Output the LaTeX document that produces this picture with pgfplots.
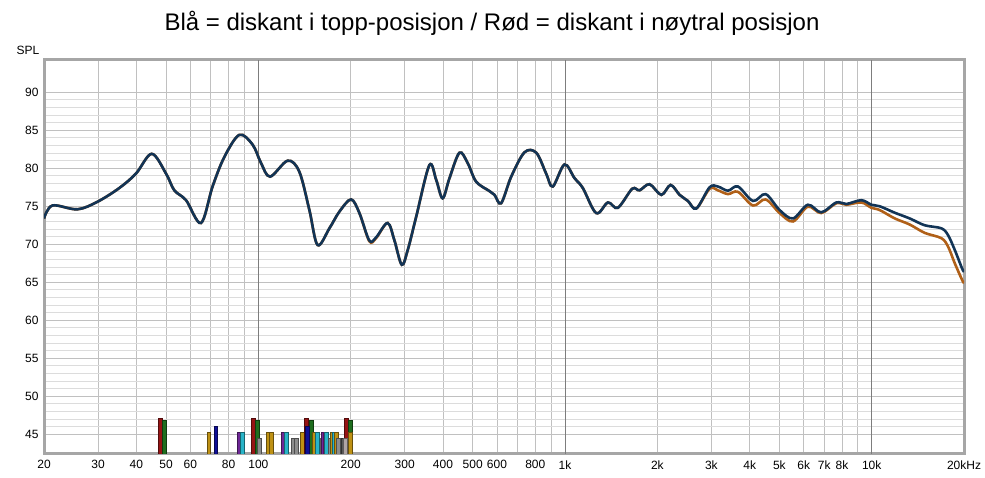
\documentclass[border=0pt]{standalone}
\usepackage{pgfplots}
\pgfplotsset{compat=1.18}
\usepackage{fontspec}
\setmainfont{Liberation Sans}
\definecolor{cblue}{RGB}{18,52,86}
\definecolor{corange}{RGB}{176,96,24}
\definecolor{gridminor}{RGB}{220,220,220}
\definecolor{gridmajor}{RGB}{192,192,192}
\definecolor{griddark}{RGB}{125,125,125}
\definecolor{bdred}{RGB}{150,20,20}
\definecolor{bdgreen}{RGB}{30,110,30}
\definecolor{bgold}{RGB}{190,145,20}
\definecolor{bnavy}{RGB}{15,15,150}
\definecolor{bpurple}{RGB}{110,40,150}
\definecolor{bcyan}{RGB}{40,180,200}
\definecolor{bgray}{RGB}{140,140,140}
\definecolor{bdgray}{RGB}{90,90,90}
\definecolor{blgray}{RGB}{175,165,165}
\definecolor{bmagenta}{RGB}{170,30,170}
\pgfplotsset{mk/.style={ybar, bar width=3.8pt, bar shift=0pt, draw=#1!55!black, fill=#1, line width=0.6pt, forget plot}}
\begin{document}
\begin{tikzpicture}
\path[use as bounding box] (-44pt,-24pt) rectangle (941pt,454pt);
\begin{axis}[
  at={(0pt,0pt)}, anchor=south west,
  scale only axis, width=920pt, height=394pt,
  xmode=log, xmin=20, xmax=20000, ymin=42.4, ymax=94.25,
  xtick={20,30,40,50,60,70,80,90,100,200,300,400,500,600,700,800,900,1000,2000,3000,4000,5000,6000,7000,8000,9000,10000,20000},
  xticklabels={20,30,40,50,60,,80,,100,200,300,400,500,600,,800,,1k,2k,3k,4k,5k,6k,7k,8k,,10k,20kHz},
  ytick={45,50,...,90},
  minor y tick num=4,
  extra x ticks={100,1000,10000},
  extra x tick labels={},
  extra x tick style={grid=major, major grid style={draw=griddark, line width=0.8pt}},
  xmajorgrids, ymajorgrids, yminorgrids,
  major grid style={draw=gridmajor, line width=0.8pt},
  minor grid style={draw=gridminor, line width=0.8pt},
  major tick length=0pt, minor tick length=0pt,
  axis line style={draw=gray!70, line width=3pt},
  /pgf/number format/assume math mode=true,
  tick label style={font=\fontsize{12}{14}\selectfont},
  xticklabel style={yshift=-3pt},
  yticklabel style={xshift=-2pt},
  clip=true,
]
\addplot[mk=bdred] coordinates {(48.0,47.1)};
\addplot[mk=bdgreen] coordinates {(49.45,46.8)};
\addplot[mk=bgold] coordinates {(68.9,45.2)};
\addplot[mk=bnavy] coordinates {(72.6,46.1)};
\addplot[mk=bpurple] coordinates {(86.5,45.2)};
\addplot[mk=bcyan] coordinates {(88.6,45.2)};
\addplot[mk=bdred] coordinates {(96.5,47.1)};
\addplot[mk=bdgreen] coordinates {(99.0,46.8)};
\addplot[mk=bgray] coordinates {(100.8,44.5)};
\addplot[mk=bgold] coordinates {(108.0,45.2)};
\addplot[mk=bgold] coordinates {(110.5,45.2)};
\addplot[mk=bpurple] coordinates {(120.7,45.2)};
\addplot[mk=bcyan] coordinates {(123.7,45.2)};
\addplot[mk=bgray] coordinates {(129.8,44.5)};
\addplot[mk=bgray] coordinates {(133.0,44.5)};
\addplot[mk=bgold] coordinates {(139.0,45.2)};
\addplot[mk=bdred] coordinates {(143.6,47.1)};
\addplot[mk=bdgreen] coordinates {(148.5,46.8)};
\addplot[mk=bnavy] coordinates {(144.8,46.0)};
\addplot[mk=bgold] coordinates {(152.6,45.2)};
\addplot[mk=bcyan] coordinates {(155.6,45.2)};
\addplot[mk=blgray] coordinates {(160.9,44.5)};
\addplot[mk=bpurple] coordinates {(162.2,45.2)};
\addplot[mk=bmagenta] coordinates {(164.6,45.2)};
\addplot[mk=bcyan] coordinates {(166.3,45.2)};
\addplot[mk=bgray] coordinates {(171.1,44.5)};
\addplot[mk=bgold] coordinates {(174.1,45.2)};
\addplot[mk=bcyan] coordinates {(176.6,45.2)};
\addplot[mk=bgold] coordinates {(179.3,45.2)};
\addplot[mk=bgray] coordinates {(182.4,44.5)};
\addplot[mk=bdgray] coordinates {(188.4,44.5)};
\addplot[mk=bdred] coordinates {(193.3,47.1)};
\addplot[mk=blgray] coordinates {(191.8,44.5)};
\addplot[mk=bdgreen] coordinates {(199.3,46.8)};
\addplot[mk=bgold] coordinates {(199.3,45.2)};
% orange: tweeter in neutral position
\addplot[color=corange, line width=2.6pt, smooth, tension=0.55] coordinates {
(20,73.4)(21.3,75.1)(25.7,74.6)(29.9,75.6)(35.2,77.4)(39.9,79.3)(44.9,81.9)(50.0,79.3)(53.2,77.1)(58.1,75.8)(65.0,72.8)(70.9,77.6)(77.5,81.5)(86.7,84.4)(95.8,83.1)(102,80.7)(109.2,78.9)(124.6,81.0)(136,79.55)(146.7,74.5)(156,69.9)(170.5,72.1)(183.8,74.3)(200.6,75.9)(213.6,74.1)(230,70.4)(242,70.8)(264,72.8)(277.8,70.5)(293.5,67.3)(307,69.25)(327,73.6)(361,80.4)(380,78.5)(399,76.05)(420,78.7)(452.7,82.05)(481.8,80.66)(513,78.24)(567,77.0)(589,76.5)(619,75.4)(667.6,78.9)(737.6,82.1)(805.6,82.05)(868,79.3)(912,77.6)(996,80.5)(1074,78.7)(1143,77.4)(1264,74.1)(1380,75.5)(1487,74.8)(1656,77.3)(1750,77.1)(1887,77.9)(2061,76.5)(2209,77.8)(2364,76.5)(2516,75.7)(2680,74.7)(2961,77.3)(3151,77.1)(3398,76.6)(3663,76.9)(4103,75.1)(4509,75.9)(5010,74.1)(5538,73.0)(6194,74.95)(6847,74.1)(7670,75.4)(8267,75.2)(9254,75.5)(9977,74.8)(10620,74.5)(11890,73.4)(13300,72.6)(14890,71.5)(16870,70.8)(17740,69.7)(18660,67.5)(19720,65.3)(20000,64.9)};
% blue: tweeter in top position
\addplot[color=cblue, line width=2.6pt, smooth, tension=0.55] coordinates {
(20,73.4)(21.3,75.1)(25.7,74.6)(29.9,75.6)(35.2,77.4)(39.9,79.3)(44.9,81.9)(50.0,79.3)(53.2,77.1)(58.1,75.8)(65.0,72.8)(70.9,77.6)(77.5,81.5)(86.7,84.4)(95.8,83.1)(102,80.7)(109.2,78.9)(124.6,81.0)(136,79.55)(146.7,74.5)(156,69.9)(170.5,72.1)(183.8,74.3)(200.6,75.9)(213.6,74.1)(230,70.5)(242,70.9)(264,72.8)(277.8,70.5)(293.5,67.3)(307,69.25)(327,73.6)(361,80.4)(380,78.5)(399,76.05)(420,78.7)(452.7,82.05)(481.8,80.66)(513,78.24)(567,77.0)(589,76.5)(619,75.4)(667.6,78.9)(737.6,82.1)(805.6,82.05)(868,79.3)(912,77.6)(996,80.5)(1074,78.7)(1143,77.4)(1264,74.1)(1380,75.5)(1487,74.8)(1656,77.3)(1750,77.1)(1887,77.9)(2061,76.5)(2209,77.8)(2364,76.5)(2516,75.7)(2680,74.7)(2961,77.5)(3151,77.6)(3398,77.05)(3663,77.6)(4103,75.7)(4509,76.6)(5010,74.5)(5538,73.4)(6194,75.2)(6847,74.2)(7670,75.5)(8267,75.3)(9254,75.8)(9977,75.2)(10620,75.0)(11890,74.15)(13300,73.4)(14890,72.5)(16870,72.1)(17740,71.2)(18660,69.25)(19720,66.8)(20000,66.4)};
\end{axis}
\node[anchor=base, font=\fontsize{24}{28}\selectfont] at (448pt,423pt) {Blå = diskant i topp-posisjon / Rød = diskant i nøytral posisjon};
\node[font=\fontsize{12}{14}\selectfont] at (-16pt,404pt) {SPL};
\end{tikzpicture}
\end{document}
